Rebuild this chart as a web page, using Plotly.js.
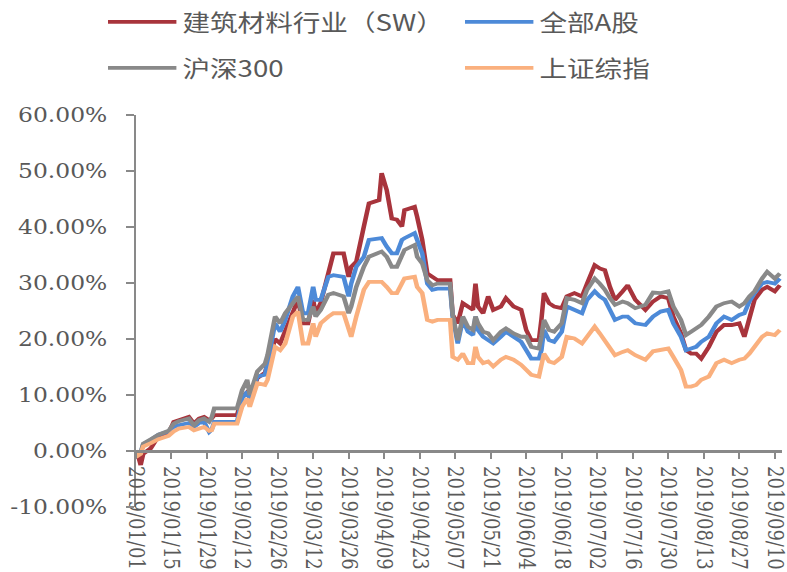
<!DOCTYPE html>
<html>
<head>
<meta charset="utf-8">
<script src="https://cdn.plot.ly/plotly-3.0.1.min.js"></script>
<style>
  html, body { margin: 0; padding: 0; background: #ffffff; overflow: hidden; }
  #wrap { width: 787px; height: 572px; overflow: hidden; }
  #chart { width: 656px; height: 572px; transform: scaleX(1.2); transform-origin: 0 0; }
</style>
</head>
<body>
<div id="wrap"><div id="chart"></div></div>
<script>
// Dates (calendar days, 2019)
const dates = [
  '2019-01-01','2019-01-02','2019-01-03','2019-01-04','2019-01-07','2019-01-10','2019-01-14','2019-01-16','2019-01-18','2019-01-22',
  '2019-01-24','2019-01-26','2019-01-28','2019-01-30','2019-01-31','2019-02-01','2019-02-10','2019-02-12','2019-02-14','2019-02-15',
  '2019-02-18','2019-02-21','2019-02-22','2019-02-25','2019-02-27','2019-03-01','2019-03-04','2019-03-06','2019-03-08','2019-03-10',
  '2019-03-12','2019-03-13','2019-03-15','2019-03-18','2019-03-20','2019-03-24','2019-03-26','2019-03-27','2019-03-29','2019-04-01',
  '2019-04-03','2019-04-07','2019-04-08','2019-04-10','2019-04-12','2019-04-14','2019-04-16','2019-04-17','2019-04-21','2019-04-22',
  '2019-04-24','2019-04-26','2019-04-28','2019-04-30','2019-05-05','2019-05-06','2019-05-08','2019-05-10','2019-05-12','2019-05-14',
  '2019-05-15','2019-05-16','2019-05-18','2019-05-20','2019-05-22','2019-05-25','2019-05-27','2019-05-30','2019-06-02','2019-06-04',
  '2019-06-06','2019-06-09','2019-06-10','2019-06-11','2019-06-13','2019-06-15','2019-06-18','2019-06-20','2019-06-23','2019-06-26',
  '2019-06-28','2019-07-01','2019-07-03','2019-07-05','2019-07-07','2019-07-09','2019-07-12','2019-07-14','2019-07-17','2019-07-21',
  '2019-07-24','2019-07-27','2019-07-30','2019-08-01','2019-08-04','2019-08-06','2019-08-08','2019-08-10','2019-08-12','2019-08-15',
  '2019-08-18','2019-08-21','2019-08-24','2019-08-27','2019-08-29','2019-08-31','2019-09-02','2019-09-05','2019-09-07','2019-09-10',
  '2019-09-12'
];

// 建筑材料行业（SW）, cumulative return %
const buildingMaterials = [
  0, -0.8, -2.5, -0.5, 0.5, 2.6, 3.2, 5.2, 5.5, 6.1,
  4.9, 5.8, 6.1, 5.5, 5.8, 6.4, 6.4, 9.7, 10.5, 9.4,
  13.0, 14.0, 15.5, 20.0, 19.2, 21.5, 25.0, 27.0, 22.8, 22.8,
  27.0, 24.5, 26.5, 31.7, 35.3, 35.3, 31.1, 32.9, 33.8, 40.1,
  44.2, 44.8, 49.6, 46.6, 41.5, 41.3, 40.1, 43.0, 43.6, 41.8,
  37.7, 31.7, 31.1, 30.5, 30.5, 24.3, 22.8, 26.4, 25.8, 25.2,
  29.9, 25.8, 24.6, 27.6, 25.2, 25.8, 27.3, 25.8, 25.2, 21.6,
  19.8, 19.8, 23.5, 28.2, 26.4, 25.8, 25.5, 27.6, 28.2, 27.6,
  29.9, 33.2, 32.6, 32.3, 29.3, 27.0, 28.5, 29.6, 27.0, 25.2,
  26.7, 27.6, 27.3, 24.0, 21.0, 18.0, 17.4, 17.4, 16.5, 18.6,
  21.3, 22.5, 22.5, 22.8, 20.4, 24.0, 27.0, 28.8, 29.3, 28.5,
  29.6
];

// 全部A股
const allAShares = [
  0, -0.6, -0.3, 1.2, 2.0, 2.9, 3.5, 4.3, 4.6, 5.0,
  4.3, 5.0, 5.2, 3.4, 3.8, 5.2, 5.2, 9.4, 10.6, 9.4,
  13.3, 13.6, 15.7, 22.8, 21.3, 23.4, 27.6, 29.3, 24.6, 24.6,
  29.3, 27.0, 27.0, 31.1, 31.4, 31.1, 27.6, 29.9, 32.9, 34.7,
  37.7, 38.0, 38.0, 36.5, 35.3, 35.3, 37.7, 38.0, 38.9, 37.7,
  35.3, 29.9, 28.8, 29.0, 29.0, 24.0, 19.2, 23.4, 21.3, 20.7,
  24.0, 21.6, 20.4, 19.8, 19.2, 20.4, 21.3, 20.4, 19.5, 18.0,
  16.5, 16.5, 18.0, 21.6, 19.8, 19.5, 21.3, 25.8, 25.2, 24.6,
  27.0, 28.5, 27.6, 27.0, 25.2, 23.4, 24.0, 24.0, 22.8, 22.5,
  24.0, 24.9, 25.2, 22.8, 20.4, 18.0, 18.3, 18.6, 19.5, 20.4,
  22.8, 24.0, 23.4, 24.3, 24.6, 26.7, 28.2, 29.9, 30.2, 29.9,
  30.8
];

// 沪深300
const csi300 = [
  0, -0.5, -0.4, 1.3, 2.1, 2.9, 3.6, 4.9, 5.3, 5.8,
  4.6, 5.5, 5.8, 5.2, 6.0, 7.6, 7.6, 10.9, 12.7, 10.0,
  14.2, 15.6, 17.1, 24.0, 22.8, 24.6, 26.4, 27.6, 23.4, 23.4,
  25.8, 24.0, 25.2, 27.9, 28.2, 27.6, 24.6, 25.8, 29.3, 32.9,
  34.7, 35.3, 35.6, 34.7, 32.9, 32.9, 34.7, 35.9, 36.8, 34.7,
  33.5, 30.5, 29.6, 29.9, 29.9, 24.3, 19.8, 24.0, 22.2, 21.6,
  24.0, 22.8, 21.3, 21.0, 19.8, 21.3, 21.9, 21.0, 20.4, 20.4,
  18.6, 18.3, 20.4, 23.4, 21.6, 21.3, 22.8, 27.3, 27.0, 26.4,
  28.8, 30.8, 29.9, 28.8, 27.3, 26.1, 26.7, 26.4, 25.5, 26.1,
  28.3, 28.2, 28.5, 25.8, 23.4, 20.7, 21.3, 21.9, 22.5, 24.0,
  25.8, 26.4, 26.7, 25.8, 26.4, 27.6, 28.5, 30.8, 32.0, 30.8,
  31.7
];

// 上证综指
const shanghaiComposite = [
  0, -0.8, -0.5, 0.8, 1.4, 2.1, 2.7, 3.5, 4.0, 4.3,
  3.7, 4.0, 4.3, 3.6, 3.7, 4.9, 4.9, 7.9, 9.4, 7.9,
  12.1, 11.8, 12.7, 18.6, 18.0, 19.2, 24.0, 24.9, 19.2, 19.2,
  22.8, 20.4, 22.8, 24.0, 24.6, 24.6, 21.3, 20.4, 24.0, 28.8,
  30.2, 30.2, 30.2, 29.3, 28.2, 28.2, 29.9, 30.8, 31.1, 29.3,
  28.2, 23.4, 23.1, 23.4, 23.4, 16.8, 16.3, 17.4, 15.7, 15.7,
  18.6, 16.8, 15.7, 16.0, 15.1, 16.3, 16.8, 16.3, 15.4, 14.5,
  13.6, 13.3, 15.7, 17.4, 16.0, 15.7, 16.8, 20.4, 20.1, 19.2,
  20.4, 22.2, 21.0, 19.8, 18.6, 17.1, 17.7, 18.0, 17.1, 16.3,
  17.8, 18.0, 18.3, 16.8, 14.5, 11.5, 11.5, 11.8, 12.7, 13.3,
  15.7, 16.3, 15.7, 16.3, 16.5, 17.4, 18.6, 20.4, 21.0, 20.7,
  21.6
];

const seriesNames = ['建筑材料行业（SW）', '全部A股', '沪深300', '上证综指'];
const seriesColors = ['#A8343C', '#4D8AD8', '#898989', '#FAB07E'];
const yTickVals = [-10, 0, 10, 20, 30, 40, 50, 60];
const yTickText = ['-10.00%', '0.00%', '10.00%', '20.00%', '30.00%', '40.00%', '50.00%', '60.00%'];

const seriesValues = [buildingMaterials, allAShares, csi300, shanghaiComposite];
const legendIds = ['legend', 'legend2', 'legend3', 'legend4'];

const traces = seriesValues.map((vals, i) => ({
  type: 'scatter',
  mode: 'lines',
  x: dates,
  y: vals,
  name: seriesNames[i],
  legend: legendIds[i],
  line: { color: seriesColors[i], width: 3.8 },
  hoverinfo: 'skip'
}));

const W = 656, H = 572;
const textColor = '#595959';
const axisColor = '#898989';
function makeLegend(left, centerY) {
  return {
    orientation: 'h',
    xref: 'container', x: left / W, xanchor: 'left',
    yref: 'container', y: 1 - centerY / H, yanchor: 'middle',
    font: { family: 'Noto Sans CJK SC, sans-serif', size: 23, color: textColor },
    bgcolor: 'rgba(0,0,0,0)',
    borderwidth: 0,
    itemwidth: 57,
    itemclick: false, itemdoubleclick: false
  };
}

const layout = {
  width: W, height: H,
  paper_bgcolor: '#ffffff', plot_bgcolor: '#ffffff',
  margin: { l: 113, r: 3.5, t: 115, b: 65, pad: 0 },
  showlegend: true,
  legend: makeLegend(85, 22),
  legend2: makeLegend(382.5, 22),
  legend3: makeLegend(85, 68),
  legend4: makeLegend(382.5, 68),
  xaxis: {
    type: 'date',
    range: ['2019-01-01', '2019-09-13'],
    tick0: '2019-01-01',
    dtick: 14 * 86400000,
    tickformat: '%Y/%m/%d',
    tickangle: 90,
    anchor: 'free',
    position: 1 / 7,
    showline: true, linecolor: axisColor, linewidth: 2.5,
    ticks: 'outside', ticklen: 6, tickwidth: 1.7, tickcolor: axisColor,
    showgrid: false, zeroline: false,
    tickfont: { family: 'DejaVu Serif, serif', size: 18, color: textColor },
    ticklabelstandoff: 4,
    ticklabeloverflow: 'allow',
    automargin: false,
    fixedrange: true
  },
  yaxis: {
    range: [-10, 60],
    tickmode: 'array',
    tickvals: yTickVals,
    ticktext: yTickText,
    showline: true, linecolor: axisColor, linewidth: 1.7,
    ticks: 'outside', ticklen: 6, tickwidth: 2, tickcolor: axisColor,
    showgrid: false, zeroline: false,
    tickfont: { family: 'DejaVu Serif, serif', size: 19.5, color: textColor },
    ticklabelstandoff: 12,
    automargin: false,
    fixedrange: true
  },
  hovermode: false
};

Plotly.newPlot('chart', traces, layout, { displayModeBar: false, staticPlot: true, responsive: false });
</script>
</body>
</html>
